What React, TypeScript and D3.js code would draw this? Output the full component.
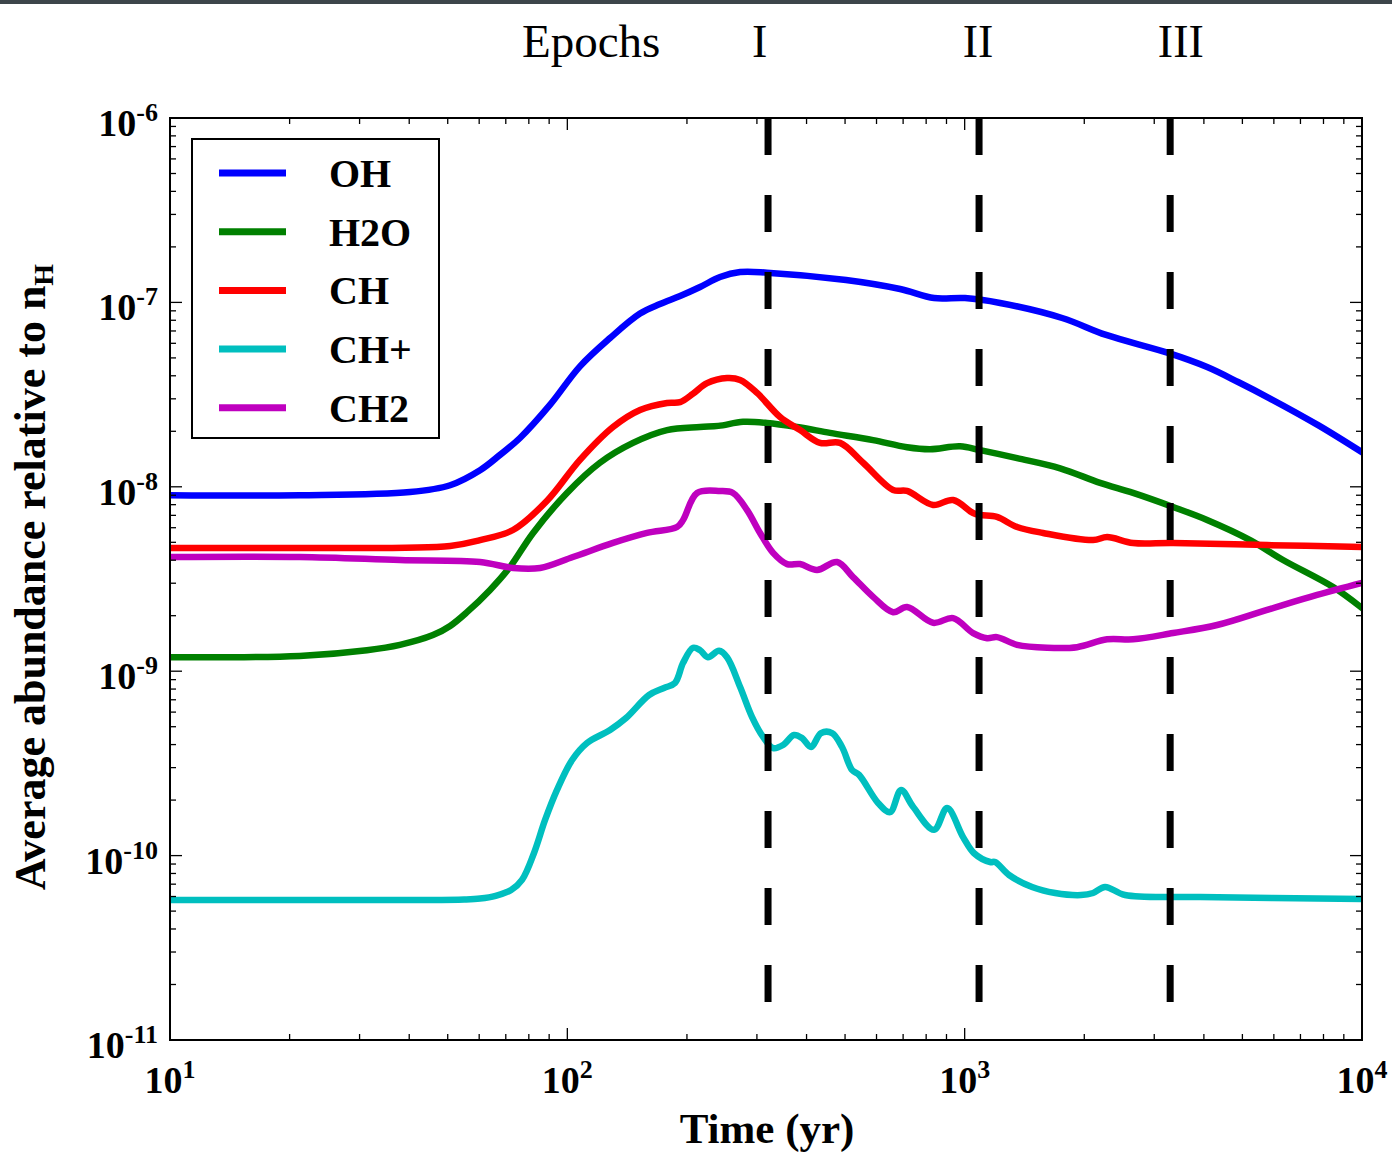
import React from 'react';
import * as d3 from 'd3';

// ---- data: [time (yr), abundance relative to nH] ----
const OH: [number, number][] = [
  [10, 9.0e-9], [21.2, 9.0e-9], [40.2, 9.37e-9], [50.7, 1.02e-8], [60.3, 1.23e-8], [67.7, 1.49e-8],
  [76.0, 1.84e-8], [90.4, 2.78e-8], [107.6, 4.5e-8], [128.1, 6.41e-8], [152.4, 8.7e-8], [171.1, 9.8e-8],
  [192.2, 1.083e-7], [215.8, 1.212e-7], [242.3, 1.373e-7], [272.2, 1.46e-7], [318, 1.45e-7],
  [502.9, 1.323e-7], [687.9, 1.182e-7], [837.5, 1.056e-7], [1002, 1.056e-7], [1228, 9.93e-8],
  [1759, 8.23e-8], [2270, 6.66e-8], [3251, 5.32e-8], [4075, 4.46e-8], [4877, 3.7e-8], [5838, 3.03e-8],
  [7753, 2.16e-8], [10000, 1.54e-8],
];

const H2O: [number, number][] = [
  [10, 1.19e-9], [21.2, 1.21e-9], [31.3, 1.3e-9], [37.9, 1.39e-9], [45.9, 1.57e-9], [50.7, 1.76e-9],
  [55.9, 2.09e-9], [63.9, 2.76e-9], [71.7, 3.67e-9], [82.0, 5.62e-9], [99.8, 9.26e-9], [120.8, 1.35e-8],
  [146.3, 1.73e-8], [178.2, 2.03e-8], [215.8, 2.11e-8], [240, 2.14e-8], [276.9, 2.25e-8],
  [318.2, 2.22e-8], [378.6, 2.11e-8], [458.4, 1.96e-8], [588.2, 1.79e-8], [716.1, 1.64e-8],
  [818.4, 1.6e-8], [973.6, 1.66e-8], [1094, 1.58e-8], [1355, 1.43e-8], [1739, 1.26e-8], [2192, 1.05e-8],
  [2654, 9.26e-9], [3346, 7.77e-9], [4075, 6.61e-9], [5229, 5.14e-9], [6328, 4.01e-9], [8457, 2.86e-9],
  [10000, 2.2e-9],
];

const CH: [number, number][] = [
  [10, 4.66e-9], [21.2, 4.66e-9], [50.7, 4.78e-9], [60.3, 5.14e-9], [73.0, 5.83e-9], [88.9, 8.4e-9],
  [107.6, 1.4e-8], [130.3, 2.11e-8], [152.4, 2.61e-8], [178.2, 2.85e-8], [192.2, 2.88e-8],
  [207.3, 3.2e-8], [224.7, 3.65e-8], [252.3, 3.89e-8], [272.2, 3.8e-8], [300.3, 3.23e-8],
  [343.1, 2.39e-8], [385.3, 2.03e-8], [432.5, 1.73e-8], [485.8, 1.73e-8], [555.1, 1.35e-8],
  [660.6, 9.61e-9], [716.1, 9.49e-9], [832.8, 7.97e-9], [935.2, 8.48e-9], [1050, 7.21e-9],
  [1094, 7.03e-9], [1206, 6.86e-9], [1355, 6.05e-9], [1575, 5.62e-9], [2105, 5.14e-9], [2283, 5.34e-9],
  [2654, 4.96e-9], [3346, 4.96e-9], [5770, 4.83e-9], [10000, 4.72e-9],
];

const CHp: [number, number][] = [
  [10, 5.74e-11], [25, 5.74e-11], [45, 5.74e-11], [55, 5.78e-11], [60.3, 5.85e-11], [66, 6.05e-11],
  [72.2, 6.5e-11], [76.9, 7.38e-11], [82.4, 1.03e-10], [87.9, 1.56e-10],
  [94.2, 2.27e-10], [102.8, 3.3e-10], [112.1, 4.08e-10], [128.1, 4.8e-10], [140.5, 5.57e-10],
  [160.6, 7.43e-10], [175.1, 8.11e-10], [186.6, 8.63e-10], [195.6, 1.11e-9], [207.3, 1.34e-9],
  [215.8, 1.3e-9], [225.9, 1.19e-9], [240.9, 1.29e-9], [252.3, 1.19e-9], [272.2, 8.21e-10],
  [291.7, 5.64e-10], [310.9, 4.4e-10], [329.5, 3.83e-10], [349.1, 3.98e-10], [372.1, 4.51e-10],
  [389.7, 4.34e-10], [410.6, 3.88e-10], [435.1, 4.62e-10], [463.7, 4.62e-10], [491.4, 3.88e-10],
  [520.7, 2.91e-10], [542.3, 2.74e-10], [605.4, 1.93e-10], [649.1, 1.72e-10], [691.8, 2.27e-10],
  [741.5, 1.84e-10], [837.5, 1.38e-10], [903.2, 1.81e-10], [990.8, 1.26e-10], [1056, 1.03e-10],
  [1159, 9.23e-11], [1193, 9.23e-11], [1293, 7.85e-11], [1478, 6.76e-11], [1689, 6.27e-11],
  [1963, 6.11e-11], [2105, 6.27e-11], [2256, 6.76e-11], [2533, 6.11e-11], [3913, 5.96e-11],
  [10000, 5.82e-11],
];

const CH2: [number, number][] = [
  [10, 4.16e-9], [21.2, 4.16e-9], [37.9, 4.01e-9], [60.3, 3.91e-9], [73.0, 3.63e-9], [85.4, 3.63e-9],
  [103.3, 4.16e-9], [130.3, 4.96e-9], [158.7, 5.62e-9], [188.8, 6.05e-9], [195.6, 6.61e-9],
  [212.1, 9.26e-9], [242.3, 9.49e-9], [261.2, 9.26e-9], [283.4, 7.48e-9], [305.5, 5.62e-9],
  [329.5, 4.38e-9], [357.3, 3.81e-9], [385.3, 3.81e-9], [425.1, 3.54e-9], [477.3, 3.91e-9],
  [523.7, 3.24e-9], [588.2, 2.53e-9], [660.6, 2.09e-9], [716.1, 2.23e-9], [832.8, 1.83e-9],
  [935.2, 1.94e-9], [1050, 1.61e-9], [1139, 1.51e-9], [1206, 1.53e-9], [1355, 1.39e-9], [1612, 1.34e-9],
  [1918, 1.35e-9], [2283, 1.49e-9], [2654, 1.49e-9], [3346, 1.61e-9], [4318, 1.78e-9], [5770, 2.15e-9],
  [7709, 2.59e-9], [10000, 3.01e-9],
];

const seriesNames = ['OH', 'H2O', 'CH', 'CH+', 'CH2'];
const seriesData = [OH, H2O, CH, CHp, CH2];
const seriesColors = ['#0000ff', '#008000', '#ff0000', '#00bfbf', '#bf00bf'];

const epochLabels = ['I', 'II', 'III'];
const epochLineTimes = [320, 1087, 3290];
const epochLabelTimes = [305, 1080, 3500];

const xDomain: [number, number] = [10, 1e4];
const yDomain: [number, number] = [1e-11, 1e-6];
const xMajor = [10, 100, 1000, 10000];
const yMajor = [1e-11, 1e-10, 1e-9, 1e-8, 1e-7, 1e-6];

const W = 1392;
const H = 1155;
const L = 170, R = 1362, T = 118, B = 1040;
const FONT = "'Liberation Serif', 'DejaVu Serif', serif";

export default function App() {
  const x = d3.scaleLog().domain(xDomain).range([L, R]);
  const y = d3.scaleLog().domain(yDomain).range([B, T]);
  const line = d3
    .line<[number, number]>()
    .x((d) => x(d[0]))
    .y((d) => y(d[1]))
    .curve(d3.curveCatmullRom.alpha(0.5));

  const isMajor = (v: number) => Math.abs(Math.log10(v) - Math.round(Math.log10(v))) < 1e-9;
  const xTicks = x.ticks();
  const yTicks = y.ticks();

  return (
    <svg
      width={W}
      height={H}
      style={{ position: 'absolute', left: 0, top: 0, display: 'block', background: '#fff' }}
      fontFamily={FONT}
    >
      <rect x={0} y={0} width={W} height={H} fill="#fff" />
      <rect x={0} y={0} width={W} height={4} fill="#3d454a" />
      <defs>
        <clipPath id="plot">
          <rect x={L} y={T} width={R - L} height={B - T} />
        </clipPath>
      </defs>

      {/* curves */}
      <g clipPath="url(#plot)">
        {seriesData.map((d, i) => (
          <path
            key={seriesNames[i]}
            d={line(d) || ''}
            fill="none"
            stroke={seriesColors[i]}
            strokeWidth={6.5}
            strokeLinejoin="round"
            strokeLinecap="round"
          />
        ))}
      </g>

      {/* epoch dashed lines */}
      {epochLineTimes.map((t, i) => (
        <line
          key={'ep' + i}
          x1={x(t)}
          x2={x(t)}
          y1={T}
          y2={1002}
          stroke="#000"
          strokeWidth={7}
          strokeDasharray="37 40"
        />
      ))}

      {/* epoch labels */}
      <text x={522} y={57} fontSize={47} fill="#000">Epochs</text>
      {epochLabels.map((lab, i) => (
        <text key={lab} x={x(epochLabelTimes[i])} y={57} fontSize={46} textAnchor="middle" fill="#000">
          {lab}
        </text>
      ))}

      {/* ticks */}
      {xTicks.map((t, i) => {
        const len = isMajor(t) ? 12 : 6;
        const px = x(t);
        return (
          <g key={'xt' + i}>
            <line x1={px} x2={px} y1={B} y2={B - len} stroke="#000" strokeWidth={1.3} />
            <line x1={px} x2={px} y1={T} y2={T + len} stroke="#000" strokeWidth={1.3} />
          </g>
        );
      })}
      {yTicks.map((t, i) => {
        const len = isMajor(t) ? 12 : 6;
        const py = y(t);
        return (
          <g key={'yt' + i}>
            <line x1={L} x2={L + len} y1={py} y2={py} stroke="#000" strokeWidth={1.3} />
            <line x1={R} x2={R - len} y1={py} y2={py} stroke="#000" strokeWidth={1.3} />
          </g>
        );
      })}

      {/* frame */}
      <rect x={L} y={T} width={R - L} height={B - T} fill="none" stroke="#000" strokeWidth={2} />

      {/* x tick labels */}
      {xMajor.map((t) => (
        <text key={'xl' + t} x={x(t)} y={1093} textAnchor="middle" fontSize={38} fontWeight="bold" fill="#000">
          10
          <tspan dy={-15} fontSize={26}>{Math.round(Math.log10(t))}</tspan>
        </text>
      ))}

      {/* y tick labels */}
      {yMajor.map((v) => (
        <text key={'yl' + v} x={158} y={y(v) + 18} textAnchor="end" fontSize={38} fontWeight="bold" fill="#000">
          10
          <tspan dy={-15} fontSize={26}>{'-' + Math.abs(Math.round(Math.log10(v)))}</tspan>
        </text>
      ))}

      {/* axis titles */}
      <text x={767} y={1143} textAnchor="middle" fontSize={43} fontWeight="bold" fill="#000">
        Time (yr)
      </text>
      <text
        transform="translate(45,577) rotate(-90)"
        textAnchor="middle"
        fontSize={44}
        fontWeight="bold"
        fill="#000"
      >
        Average abundance relative to n
        <tspan dy={8} fontSize={28}>H</tspan>
      </text>

      {/* legend */}
      <rect x={192} y={139} width={247} height={299} fill="#fff" stroke="#000" strokeWidth={2} />
      {seriesNames.map((n, i) => {
        const yc = 173 + i * 58.7;
        return (
          <g key={'lg' + n}>
            <line x1={219} x2={286} y1={yc} y2={yc} stroke={seriesColors[i]} strokeWidth={7} />
            <text x={329} y={yc + 14} fontSize={40} fontWeight="bold" fill="#000">
              {n}
            </text>
          </g>
        );
      })}
    </svg>
  );
}
